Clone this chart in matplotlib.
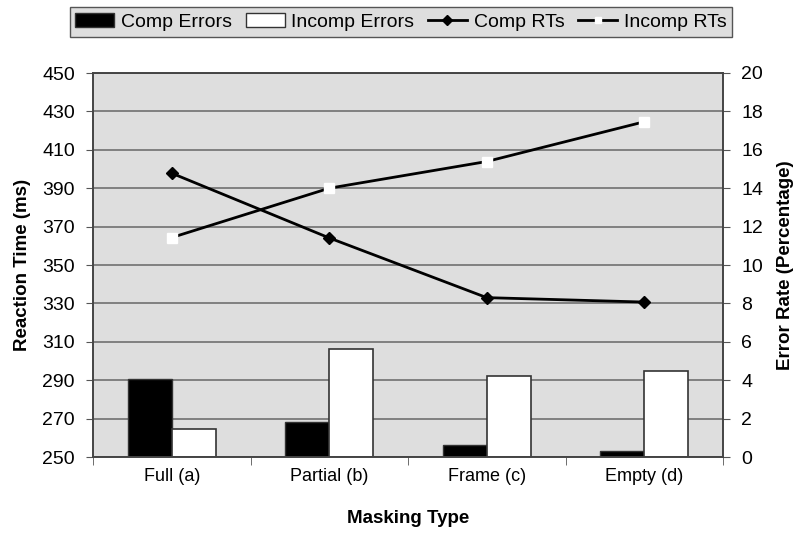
import matplotlib
matplotlib.use("Agg")
import matplotlib.pyplot as plt
import numpy as np
from matplotlib.lines import Line2D
from matplotlib.patches import Patch

plt.rcParams['font.family'] = ['Liberation Sans', 'DejaVu Sans']

categories = ["Full (a)", "Partial (b)", "Frame (c)", "Empty (d)"]
comp_errors = [4.05, 1.84, 0.64, 0.31]
incomp_errors = [1.44, 5.61, 4.23, 4.48]
comp_rts = [397.8, 364.1, 333.0, 330.7]
incomp_rts = [364.3, 390.0, 403.9, 424.6]
left_ticks = list(range(250, 451, 20))
right_ticks = list(range(0, 21, 2))

fig = plt.figure(figsize=(8.01, 5.36), dpi=100)
fig.patch.set_facecolor("white")
ax = fig.add_axes([93/801, (536-457)/536, (723-93)/801, (457-73)/536])
ax.set_facecolor("#dedede")
ax2 = ax.twinx()

x = np.arange(len(categories))
bw = 0.28
ax2.bar(x - bw/2, comp_errors, bw, color="black", edgecolor="#333333", linewidth=1, zorder=2)
ax2.bar(x + bw/2, incomp_errors, bw, color="white", edgecolor="#333333", linewidth=1.2, zorder=2)
ax2.set_ylim(0, 20)
ax2.set_yticks(right_ticks)

ax.set_zorder(ax2.get_zorder() + 1)
ax.patch.set_visible(False)
ax2.patch.set_visible(True)
ax2.patch.set_facecolor("#dedede")
ax.plot(x, comp_rts, color="black", lw=2, marker="D", ms=6.5, mfc="black", mec="black", zorder=4)
ax.plot(x, incomp_rts, color="black", lw=2, marker="s", ms=6.5, mfc="white", mec="white", zorder=4)
ax.set_ylim(250, 450)
ax.set_yticks(left_ticks)
ax.set_xlim(-0.5, 3.5)
ax.set_xticks(x)
ax.set_xticklabels(categories, fontsize=13)
ax.set_xticks(np.arange(-0.5, 3.6, 1.0), minor=True)
ax.tick_params(axis="x", which="major", length=0, pad=8)
ax.tick_params(axis="x", which="minor", length=6, color="#555555", direction="out")
ax.tick_params(axis="y", length=5, color="#555555", labelsize=14, pad=8)
ax2.tick_params(axis="y", length=5, color="#555555", labelsize=14, pad=8)

for t in left_ticks:
    ax2.axhline((t - 250) / 10, color="#666666", lw=1.1, zorder=1)

for a in (ax, ax2):
    for s in a.spines.values():
        s.set_color("#444444")
        s.set_linewidth(1.2)

ax.set_ylabel("Reaction Time (ms)", fontsize=13.5, fontweight="bold", labelpad=8)
ax2.set_ylabel("Error Rate (Percentage)", fontsize=13.5, fontweight="bold", labelpad=10)
ax.set_xlabel("Masking Type", fontsize=13.5, fontweight="bold", labelpad=18)

handles = [
    Patch(facecolor="black", edgecolor="#333333"),
    Patch(facecolor="white", edgecolor="#333333"),
    Line2D([], [], color="black", lw=2, marker="D", ms=5, mfc="black", mec="black"),
    Line2D([], [], color="black", lw=2, marker="s", ms=5, mfc="white", mec="white"),
]
labels = ["Comp Errors", "Incomp Errors", "Comp RTs", "Incomp RTs"]
leg = fig.legend(handles, labels, loc="center", bbox_to_anchor=(401/801, 1 - 22/536), ncol=4,
                 fontsize=14, frameon=True, fancybox=False, handlelength=2.0, handletextpad=0.35,
                 columnspacing=0.7, borderpad=0.3, borderaxespad=0.2)
leg.get_frame().set_facecolor("#dedede")
leg.get_frame().set_edgecolor("#555555")
leg.get_frame().set_alpha(1)

fig.savefig("out.png", dpi=100)
